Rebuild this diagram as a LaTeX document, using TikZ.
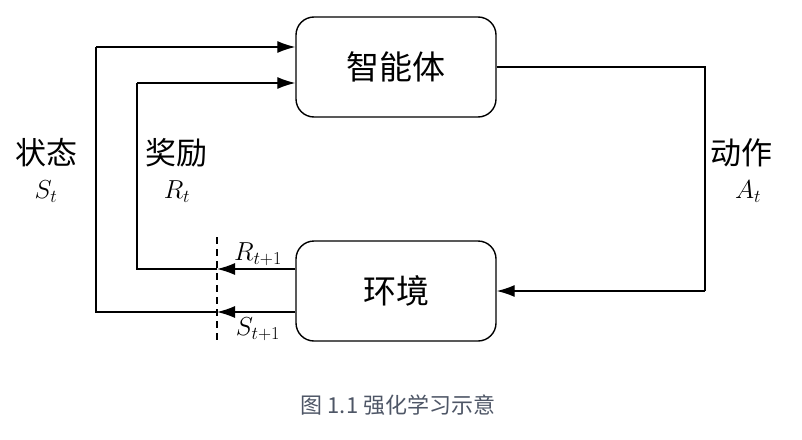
\RequirePackage{fix-cm}
\documentclass[tikz,border=0pt]{standalone}
\usepackage{fontspec}
\newfontfamily\cjk{Noto Sans CJK SC}
\usetikzlibrary{arrows.meta,calc}
\definecolor{capgray}{HTML}{4E5666}
\begin{document}
\begin{tikzpicture}[x=1pt,y=-1pt,
  box/.style={draw,line width=1.4pt,rounded corners=18pt,minimum width=200pt,minimum height=100pt,font=\cjk\fontsize{33}{36}\selectfont},
  conn/.style={line width=1.3pt},
  arr/.style={line width=1.3pt,-{Latex[length=18pt,width=12pt]}},
  lab/.style={font=\cjk\fontsize{31}{34}\selectfont},
  mlab/.style={font=\fontsize{26}{30}\selectfont}]
\useasboundingbox (0,0) rectangle (802,439);
\node[box] (agent) at (396,67) {智能体};
\node[box] (env) at (396,291) {环境};
% action
\coordinate (ar1) at (705,67);
\coordinate (ar2) at (705,291);
\draw[conn] (agent.east) -- (ar1) -- (ar2);
\draw[arr] (ar2) -- (env.east);
% cut line
\coordinate (cutTop) at (217,237);
\coordinate (cutBot) at (217,341);
\draw[line width=1.2pt,dash pattern=on 7pt off 5pt] (cutTop) -- (cutBot);
% reward
\coordinate (rEnv) at (env.west |- 0,269);
\coordinate (rCut) at (217,269);
\coordinate (rL) at (137,269);
\coordinate (rTop) at (137,83);
\coordinate (rAg) at (agent.west |- 0,83);
\draw[arr] (rEnv) -- (rCut);
\draw[conn] (rCut) -- (rL) -- (rTop);
\draw[arr] (rTop) -- (rAg);
% state
\coordinate (sEnv) at (env.west |- 0,312);
\coordinate (sCut) at (217,312);
\coordinate (sL) at (96,312);
\coordinate (sTop) at (96,47);
\coordinate (sAg) at (agent.west |- 0,47);
\draw[arr] (sEnv) -- (sCut);
\draw[conn] (sCut) -- (sL) -- (sTop);
\draw[arr] (sTop) -- (sAg);
% labels
\node[lab] (lstate) at (46,153) {状态};
\node[mlab] (lst) at (46,192) {$S_t$};
\node[lab] (lrew) at (176,153) {奖励};
\node[mlab] (lrt) at (177,192) {$R_t$};
\node[lab] (lact) at (741,153) {动作};
\node[mlab] (lat) at (748,192) {$A_t$};
\node[mlab] (lr1) at (258,254) {$R_{t+1}$};
\node[mlab] (ls1) at (258,329) {$S_{t+1}$};
\node[font=\cjk\fontsize{22}{26}\selectfont,text=capgray] (cap) at (398,405) {图 1.1 强化学习示意};
\end{tikzpicture}
\end{document}
